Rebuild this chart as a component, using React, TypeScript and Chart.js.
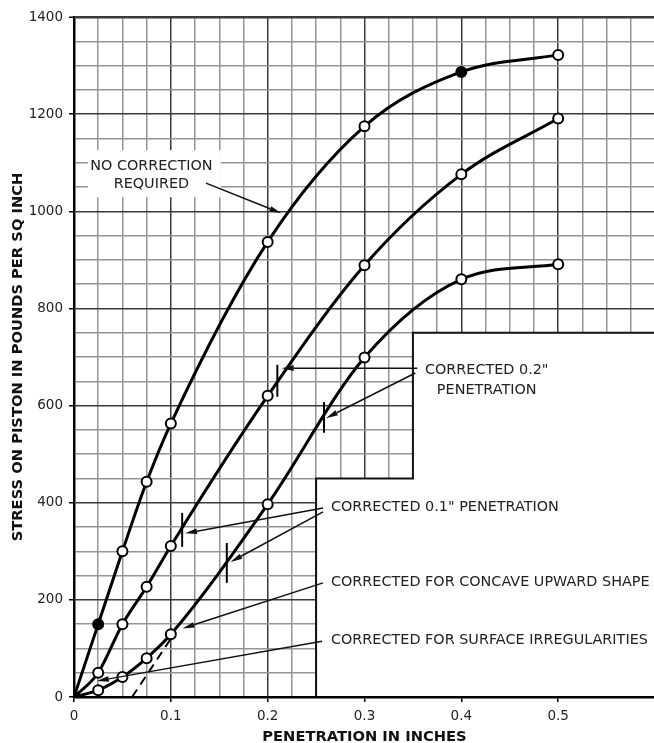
import React, { useEffect, useRef } from 'react';
import { Chart, registerables } from 'chart.js';

Chart.register(...registerables);

// ---- data ----
const penetration = [0, 0.025, 0.05, 0.075, 0.1, 0.2, 0.3, 0.4, 0.5];
const stressNoCorrection = [0, 150, 300, 443, 563, 937, 1175, 1287, 1322];
const stressMiddle = [0, 50, 150, 227, 311, 620, 889, 1076, 1191];
const stressLower = [0, 14, 41, 80, 129, 397, 699, 860, 891];
const filledNoCorrection = [false, true, false, false, false, false, false, true, false];

const tangentX = [0.06, 0.105];
const tangentY = [0, 135];

const correctionTickX = [0.1117, 0.21, 0.1578, 0.2582];
const correctionTickLow = [309, 618, 235, 544];
const correctionTickHigh = [379, 684, 317, 607];

const xTickLabels = ['0', '0.1', '0.2', '0.3', '0.4', '0.5'];
const yTickLabels = ['0', '200', '400', '600', '800', '1000', '1200', '1400'];

const xTitle = 'PENETRATION IN INCHES';
const yTitle = 'STRESS ON PISTON IN POUNDS PER SQ INCH';

// ---- annotation layout (data units) ----
const notes = [
  { lines: ['NO CORRECTION', 'REQUIRED'], x: 0.0799, ys: [1093, 1056], align: 'center' },
  { lines: ['CORRECTED 0.2"', 'PENETRATION'], x: 0.4262, ys: [673, 632], align: 'center' },
  { lines: ['CORRECTED 0.1" PENETRATION'], x: 0.2654, ys: [390], align: 'left' },
  { lines: ['CORRECTED FOR CONCAVE UPWARD SHAPE'], x: 0.2654, ys: [237], align: 'left' },
  { lines: ['CORRECTED FOR SURFACE IRREGULARITIES'], x: 0.2654, ys: [117], align: 'left' },
];
const arrows = [
  [0.1363, 1058, 0.2141, 996],
  [0.3545, 677, 0.2145, 677],
  [0.3525, 667, 0.2602, 574],
  [0.2572, 389, 0.1147, 337],
  [0.2572, 381, 0.1616, 278],
  [0.2572, 235, 0.112, 141],
  [0.2562, 115, 0.0236, 33],
];
const stepOutline = [[0.25, 0], [0.25, 450], [0.35, 450], [0.35, 750], [0.6, 750]];
const noteBox = { x0: 0.0143, x1: 0.1516, y0: 1029, y1: 1126 };

const FONT = "'DejaVu Sans', Verdana, sans-serif";

const isMultiple = (v: number, step: number) => Math.abs(v / step - Math.round(v / step)) < 1e-6;

const overlayPlugin = {
  id: 'overlay',
  beforeDatasetsDraw(chart: any) {
    const { ctx, scales } = chart;
    const x = scales.x, y = scales.y;
    ctx.save();
    ctx.fillStyle = '#ffffff';
    ctx.beginPath();
    stepOutline.forEach(([vx, vy], i) => {
      const px = x.getPixelForValue(vx), py = y.getPixelForValue(vy);
      if (i === 0) ctx.moveTo(px, py); else ctx.lineTo(px, py);
    });
    ctx.lineTo(x.getPixelForValue(0.6) + 5, y.getPixelForValue(0));
    ctx.closePath();
    ctx.fill();
    const bx0 = x.getPixelForValue(noteBox.x0), bx1 = x.getPixelForValue(noteBox.x1);
    const by0 = y.getPixelForValue(noteBox.y1), by1 = y.getPixelForValue(noteBox.y0);
    ctx.fillRect(bx0, by0, bx1 - bx0, by1 - by0);
    ctx.strokeStyle = '#111';
    ctx.lineWidth = 2;
    ctx.beginPath();
    stepOutline.forEach(([vx, vy], i) => {
      const px = x.getPixelForValue(vx), py = y.getPixelForValue(vy);
      if (i === 0) ctx.moveTo(px, py); else ctx.lineTo(px, py);
    });
    ctx.lineTo(x.getPixelForValue(0.6) + 5, y.getPixelForValue(750));
    ctx.stroke();
    ctx.restore();
  },
  afterDatasetsDraw(chart: any) {
    const { ctx, scales } = chart;
    const x = scales.x, y = scales.y;
    ctx.save();
    ctx.strokeStyle = '#111';
    ctx.fillStyle = '#111';
    ctx.lineWidth = 1.5;
    arrows.forEach(([x0, y0, x1, y1]) => {
      const p0x = x.getPixelForValue(x0), p0y = y.getPixelForValue(y0);
      const p1x = x.getPixelForValue(x1), p1y = y.getPixelForValue(y1);
      const ang = Math.atan2(p1y - p0y, p1x - p0x);
      const len = 12, hw = 2.8;
      const bx = p1x - len * Math.cos(ang), by = p1y - len * Math.sin(ang);
      ctx.beginPath();
      ctx.moveTo(p0x, p0y);
      ctx.lineTo(bx, by);
      ctx.stroke();
      ctx.beginPath();
      ctx.moveTo(p1x, p1y);
      ctx.lineTo(bx + hw * Math.sin(ang), by - hw * Math.cos(ang));
      ctx.lineTo(bx - hw * Math.sin(ang), by + hw * Math.cos(ang));
      ctx.closePath();
      ctx.fill();
    });
    ctx.fillStyle = '#222';
    ctx.font = `14.4px ${FONT}`;
    ctx.textBaseline = 'middle';
    notes.forEach((n) => {
      ctx.textAlign = n.align;
      n.lines.forEach((line, i) => {
        ctx.fillText(line, x.getPixelForValue(n.x), y.getPixelForValue(n.ys[i]));
      });
    });
    ctx.restore();
  },
};

export default function App() {
  const canvasRef = useRef<HTMLCanvasElement | null>(null);

  useEffect(() => {
    if (!canvasRef.current) return;
    const pts = (ys: number[]) => penetration.map((px, i) => ({ x: px, y: ys[i] }));
    const radii = penetration.map((v) => (v === 0 ? 0 : 5));
    const curveStyle = {
      borderColor: '#000',
      borderWidth: 3,
      pointRadius: radii,
      pointBorderWidth: 2,
      pointBorderColor: '#000',
      cubicInterpolationMode: 'monotone' as const,
      fill: false,
    };
    const tickDatasets = correctionTickX.map((cx, i) => ({
      data: [{ x: cx, y: correctionTickLow[i] }, { x: cx, y: correctionTickHigh[i] }],
      borderColor: '#000',
      borderWidth: 2,
      pointRadius: 0,
      fill: false,
    }));

    const chart = new Chart(canvasRef.current, {
      type: 'line',
      data: {
        datasets: [
          { ...curveStyle, data: pts(stressNoCorrection), pointBackgroundColor: filledNoCorrection.map((f) => (f ? '#000' : '#fff')) },
          { ...curveStyle, data: pts(stressMiddle), pointBackgroundColor: '#fff' },
          { ...curveStyle, data: pts(stressLower), pointBackgroundColor: '#fff' },
          {
            data: tangentX.map((tx, i) => ({ x: tx, y: tangentY[i] })),
            borderColor: '#000',
            borderWidth: 2,
            borderDash: [9, 6],
            pointRadius: 0,
            fill: false,
          },
          ...tickDatasets,
        ],
      },
      options: {
        animation: false,
        responsive: false,
        layout: { padding: { top: 17, right: 2, left: 0, bottom: 0 } },
        plugins: { legend: { display: false }, tooltip: { enabled: false } },
        scales: {
          x: {
            type: 'linear',
            min: 0,
            max: 0.6,
            afterFit: (s: any) => { s.height = 46; },
            ticks: {
              stepSize: 0.025,
              autoSkip: false,
              maxRotation: 0,
              maxTicksLimit: 100,
              padding: 6,
              color: '#222',
              font: { family: FONT, size: 13.5 },
              callback: (v: any) => {
                const n = Number(v);
                if (!isMultiple(n, 0.1)) return '';
                const idx = Math.round(n / 0.1);
                return idx < xTickLabels.length ? xTickLabels[idx] : '';
              },
            },
            grid: {
              color: (c: any) => (c.tick && isMultiple(c.tick.value, 0.1) ? '#3a3a3a' : '#959595'),
              lineWidth: 1.5,
              tickLength: 5,
              tickColor: (c: any) => (c.tick && isMultiple(c.tick.value, 0.1) ? '#000' : 'rgba(0,0,0,0)'),
              tickWidth: 1.5,
            },
            border: { display: true, color: '#000', width: 2.5, z: 1 },
            title: {
              display: true,
              text: xTitle,
              color: '#111',
              font: { family: FONT, size: 14.7, weight: 'bold', lineHeight: 0.8 },
              padding: 0,
            },
          },
          y: {
            type: 'linear',
            min: 0,
            max: 1400,
            afterFit: (s: any) => { s.width = 74; },
            ticks: {
              stepSize: 50,
              autoSkip: false,
              maxTicksLimit: 100,
              padding: 6,
              color: '#222',
              font: { family: FONT, size: 13.5 },
              callback: (v: any) => {
                const n = Number(v);
                if (!isMultiple(n, 200)) return '';
                const idx = Math.round(n / 200);
                return idx < yTickLabels.length ? yTickLabels[idx] : '';
              },
            },
            grid: {
              color: (c: any) => (c.tick && isMultiple(c.tick.value, 200) ? '#3a3a3a' : '#959595'),
              lineWidth: (c: any) => (c.tick && c.tick.value === 1400 ? 2.5 : 1.5),
              tickLength: 5,
              tickColor: (c: any) => (c.tick && isMultiple(c.tick.value, 200) ? '#000' : 'rgba(0,0,0,0)'),
              tickWidth: 1.5,
            },
            border: { display: true, color: '#000', width: 2.5, z: 1 },
            title: {
              display: true,
              text: yTitle,
              color: '#111',
              font: { family: FONT, size: 14.7, weight: 'bold' },
              padding: { top: 9, bottom: 0 },
            },
          },
        },
      },
      plugins: [overlayPlugin],
    } as any);
    return () => chart.destroy();
  }, []);

  return (
    <div style={{ position: 'fixed', left: 0, top: 0, width: 654, height: 743, overflow: 'hidden', background: '#fff' }}>
      <canvas ref={canvasRef} width={662} height={743} style={{ display: 'block' }} />
    </div>
  );
}
